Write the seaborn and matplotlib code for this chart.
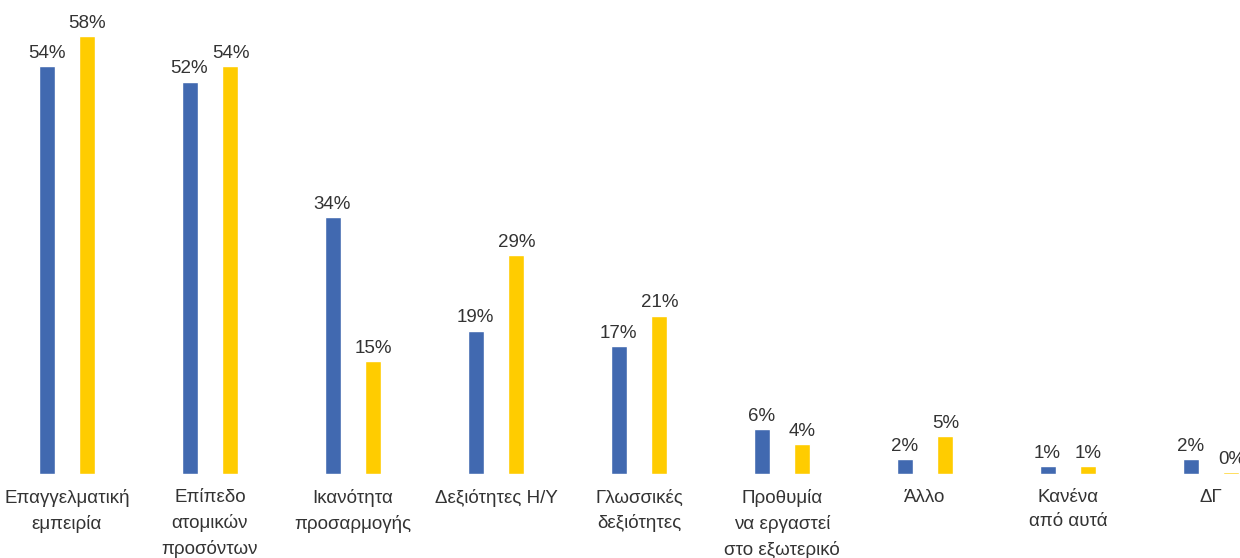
import numpy as np
import pandas as pd
import seaborn as sns
import matplotlib.pyplot as plt

categories = [
    "Επαγγελματική\nεμπειρία",
    "Επίπεδο\nατομικών\nπροσόντων",
    "Ικανότητα\nπροσαρμογής",
    "Δεξιότητες Η/Υ",
    "Γλωσσικές\nδεξιότητες",
    "Προθυμία\nνα εργαστεί\nστο εξωτερικό",
    "Άλλο",
    "Κανένα\nαπό αυτά",
    "ΔΓ",
]
series_names = ["A", "B"]
values_a = [54, 52, 34, 19, 17, 6, 2, 1, 2]
values_b = [58, 54, 15, 29, 21, 4, 5, 1, 0.3]
labels_a = ["54%", "52%", "34%", "19%", "17%", "6%", "2%", "1%", "2%"]
labels_b = ["58%", "54%", "15%", "29%", "21%", "4%", "5%", "1%", "0%"]
colors = ["#4169B0", "#FFCC00"]

df = pd.DataFrame({
    "cat": categories * 2,
    "series": [series_names[0]] * len(categories) + [series_names[1]] * len(categories),
    "val": values_a + values_b,
})

sns.set_theme(style="white")
plt.rcParams["font.family"] = ["Liberation Sans Narrow", "Liberation Sans", "DejaVu Sans"]

fig = plt.figure(figsize=(12.4, 5.58), dpi=100)
ax = fig.add_axes([0, (558 - 474) / 558, 1, 0.8385])

sns.barplot(data=df, x="cat", y="val", hue="series", palette=colors,
            width=0.573, gap=0.61, dodge=True, legend=False, ax=ax,
            saturation=1)

all_labels = labels_a + labels_b
for bar, lab in zip(ax.patches, all_labels):
    cx = bar.get_x() + bar.get_width() / 2
    ax.annotate(lab, (cx, bar.get_height()), xytext=(0, 3), textcoords="offset points",
                ha="center", va="bottom", fontsize=13.5, color="#333333")

ax.set_xlim(-67 / 143, (1240 - 67) / 143)
ax.set_ylim(0, 62)
ax.set_xlabel("")
ax.set_ylabel("")
ax.set_yticks([])
ax.tick_params(axis="x", length=0, pad=11, labelsize=13.5, labelcolor="#333333")
for lbl in ax.get_xticklabels():
    lbl.set_linespacing(1.55)
for s in ax.spines.values():
    s.set_visible(False)

fig.savefig("out.png", dpi=100)
